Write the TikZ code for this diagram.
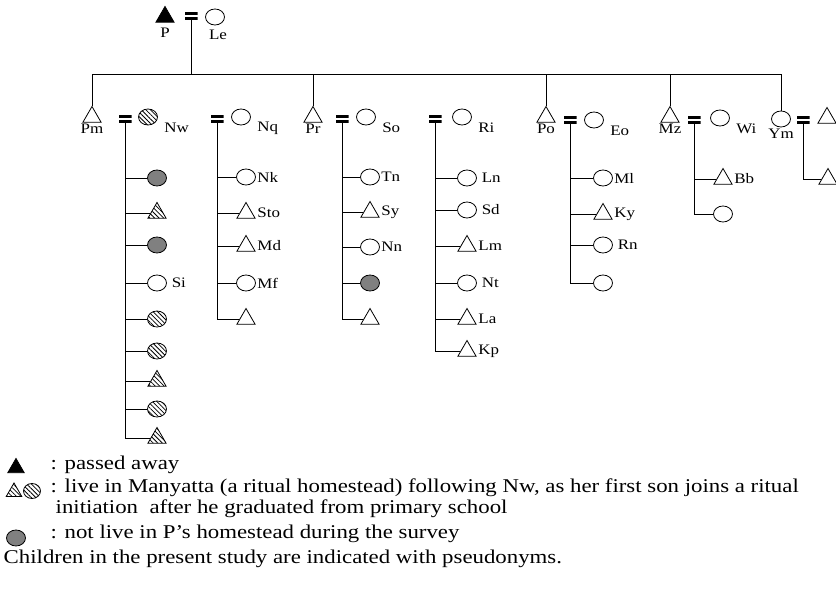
\documentclass[tikz,border=0pt]{standalone}
\usepackage{graphicx}
\usepackage{fontspec}
\setmainfont{Liberation Serif}
\usetikzlibrary{shapes.geometric,patterns.meta,positioning}

\newcommand{\legendfont}{\fontsize{19.5}{22}\selectfont}
\newcommand{\wide}[1]{\scalebox{1.17}[1]{#1}}

\begin{document}
\begin{tikzpicture}[x=1pt,y=-1pt,line width=0.8pt,
  every node/.style={font=\fontsize{14.5}{17}\selectfont},
  tri/.style={draw,regular polygon,regular polygon sides=3,inner sep=0pt,minimum size=21pt},
  circ/.style={draw,ellipse,inner sep=0pt,minimum width=19pt,minimum height=16pt},
  gone/.style={fill=black},
  away/.style={fill=gray},
  ritual/.style={pattern={Lines[angle=-45,distance=3.2pt,line width=0.75pt]}},
  marry/.style={inner sep=0pt,minimum width=13pt,minimum height=8pt,
    path picture={
      \fill (path picture bounding box.north west) rectangle ([yshift=-3pt]path picture bounding box.north east);
      \fill (path picture bounding box.south west) rectangle ([yshift=3pt]path picture bounding box.south east);}},
  kid/.style={label={[inner sep=1pt]right:\wide{#1}}},
  kidsp/.style={label={[inner sep=4.5pt]right:\wide{#1}}},
  under/.style={label={[inner sep=0pt,yshift=-1pt]below:\wide{#1}}},
  wife/.style={label={[anchor=west,inner sep=0pt,xshift=6pt,yshift=-11pt]east:\wide{#1}}}]
\useasboundingbox (0,0) rectangle (836,593);

% parents
\node[tri,gone,label={[inner sep=0pt,yshift=-5pt]below:\wide{P}}] (P) at (165,17) {};
\node[marry] (eqP) at (191,16) {};
\node[circ,label={[inner sep=0pt,xshift=3pt,yshift=-4pt]below:\wide{Le}}] (Le) at (215,17) {};
\coordinate (bar) at (192,74);

% second generation
\node[tri,under=Pm] (Pm) at (92,117) {};
\node[marry] (eqNw) at (125,119) {};
\node[circ,ritual,wife=Nw] (Nw) at (148,117) {};
\node[marry] (eqNq) at (217,119) {};
\node[circ,wife=Nq] (Nq) at (241,117) {};
\node[tri,under=Pr] (Pr) at (313,117) {};
\node[marry] (eqSo) at (342,119) {};
\node[circ,wife=So] (So) at (366,117) {};
\node[marry] (eqRi) at (435,119) {};
\node[circ,wife=Ri] (Ri) at (462,117) {};
\node[tri,under=Po] (Po) at (546,117) {};
\node[marry] (eqEo) at (570,120) {};
\node[circ,wife=Eo] (Eo) at (594,120) {};
\node[tri,under=Mz] (Mz) at (670,117) {};
\node[marry] (eqWi) at (694,120) {};
\node[circ,wife=Wi] (Wi) at (720,118) {};
\node[circ,under=Ym] (Ym) at (781,119) {};
\node[marry] (eqYm) at (803,120) {};
\node[tri] (Yh) at (827,118) {};

\draw (eqP.south) -- (eqP.south |- bar);
\draw (Pm.north) |- (Ym.north |- bar) -- (Ym.north);
\foreach \s in {Pr,Po,Mz}
  \draw (\s.north) -- (\s.north |- bar);

% children of Nw
\node[circ,away] (nw1) at (157,178) {};
\node[tri,ritual] (nw2) at (157,213) {};
\node[circ,away] (nw3) at (157,245) {};
\node[circ,kidsp=Si] (nw4) at (157,283) {};
\node[circ,ritual] (nw5) at (157,319) {};
\node[circ,ritual] (nw6) at (157,351) {};
\node[tri,ritual] (nw7) at (157,381) {};
\node[circ,ritual] (nw8) at (157,409) {};
\node[tri,ritual] (nw9) at (157,438) {};

% children of Nq
\node[circ,kid=Nk] (nq1) at (246,177) {};
\node[tri,kidsp=Sto] (nq2) at (246,213) {};
\node[tri,kidsp=Md] (nq3) at (246,246) {};
\node[circ,kid=Mf] (nq4) at (246,283) {};
\node[tri] (nq5) at (246,319) {};

% children of So
\node[circ,kid=Tn] (so1) at (370,177) {};
\node[tri,kidsp=Sy] (so2) at (370,212) {};
\node[circ,kid=Nn] (so3) at (370,247) {};
\node[circ,away] (so4) at (370,283) {};
\node[tri] (so5) at (370,319) {};

% children of Ri
\node[circ,kidsp=Ln] (ri1) at (467,178) {};
\node[circ,kidsp=Sd] (ri2) at (467,210) {};
\node[tri,kidsp=Lm] (ri3) at (467,246) {};
\node[circ,kidsp=Nt] (ri4) at (467,283) {};
\node[tri,kidsp=La] (ri5) at (467,319) {};
\node[tri,kidsp=Kp] (ri6) at (467,351) {};

% children of Eo
\node[circ,kid=Ml] (eo1) at (603,178) {};
\node[tri,kidsp=Ky] (eo2) at (603,214) {};
\node[circ,kidsp=Rn] (eo3) at (603,245) {};
\node[circ] (eo4) at (603,283) {};

% children of Wi and Ym
\node[tri,kidsp=Bb] (wi1) at (723,179) {};
\node[circ] (wi2) at (723,214) {};
\node[tri] (ym1) at (828,179) {};

\foreach \m/\c/\n in {eqNw/nw/9,eqNq/nq/5,eqSo/so/5,eqRi/ri/6,eqEo/eo/4,eqWi/wi/2,eqYm/ym/1}{
  \draw (\m.south) -- (\m.south |- \c\n.west);
  \foreach \k in {1,...,\n}
    \draw (\m.south |- \c\k.west) -- (\c\k.west);
}

% legend
\node[tri,gone,minimum size=19pt] (keyP) at (16,468) {};
\node[anchor=base west,font=\legendfont] (keyPt) at (47,470) {\wide{: passed away}};
\node[tri,ritual,minimum size=18pt] (keyMt) at (14,492) {};
\node[circ,ritual,minimum width=17pt,minimum height=15pt] (keyMc) at (32,491) {};
\node[anchor=base west,font=\legendfont] (keyMta) at (47,493)
  {\wide{: live in Manyatta (a ritual homestead) following Nw, as her first son joins a ritual}};
\node[anchor=base west,font=\legendfont] (keyMtb) at (52,514) {\wide{initiation\ \ after he graduated from primary school}};
\node[circ,away] (keyA) at (16,538) {};
\node[anchor=base west,font=\legendfont] (keyAt) at (47,539) {\wide{: not live in P’s homestead during the survey}};
\node[anchor=base west,font=\legendfont] (note) at (0,563) {\wide{Children in the present study are indicated with pseudonyms.}};
\end{tikzpicture}
\end{document}
